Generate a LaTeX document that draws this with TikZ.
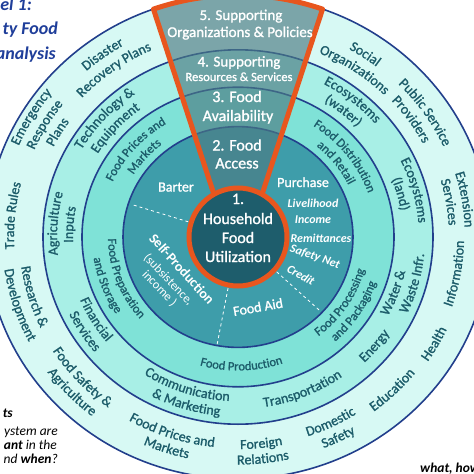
\documentclass[tikz,border=0pt]{standalone}
\usepackage{fontspec}
\setmainfont{Carlito}
\newfontfamily\semib{Carlito}[FakeBold=1.2]
\usetikzlibrary{decorations.text}
\definecolor{rfive}{HTML}{D7F9F4}
\definecolor{rfour}{HTML}{A8EFE6}
\definecolor{rthree}{HTML}{7FE2D7}
\definecolor{rtwo}{HTML}{3E9DAA}
\definecolor{rone}{HTML}{1E5D6C}
\definecolor{navy}{HTML}{223F8C}
\definecolor{orng}{HTML}{E8561E}
\definecolor{wedgec}{HTML}{4C7B83}
\definecolor{rtxt}{HTML}{1C5C6A}
\definecolor{ttl}{HTML}{1F3E9A}
\newcommand\fthree{\semib\color{rtxt}\fontsize{12.5}{14}\selectfont}
\newcommand\ffour{\semib\color{rtxt}\fontsize{14}{16}\selectfont}
\newcommand\UT[4]{%
  \pgfmathsetmacro\myA{#2+55}\pgfmathsetmacro\myB{#2-55}\pgfmathsetmacro\myR{0.96*#3}%
  \path[decorate,decoration={text along path,text align=center,text={|#1|#4}}]
    (\myA:#3pt and \myR pt) arc[start angle=\myA,end angle=\myB,x radius=#3pt,y radius=\myR pt];}
\newcommand\LT[4]{%
  \pgfmathsetmacro\myA{#2-55}\pgfmathsetmacro\myB{#2+55}\pgfmathsetmacro\myR{0.96*#3}%
  \path[decorate,decoration={text along path,text align=center,text={|#1|#4}}]
    (\myA:#3pt and \myR pt) arc[start angle=\myA,end angle=\myB,x radius=#3pt,y radius=\myR pt];}
\tikzset{
  ring/.style={draw=navy,line width=1.6pt},
  wlab/.style={text=white,inner sep=0pt,font=\semib\fontsize{14}{16}\selectfont},
  wbig/.style={text=white,inner sep=0pt,anchor=base,font=\semib\fontsize{16}{18}\selectfont},
  wmid/.style={text=white,inner sep=0pt,anchor=base,font=\semib\fontsize{15}{17}\selectfont},
  wbi/.style={text=white,inner sep=0pt,font=\bfseries\itshape\fontsize{12}{14}\selectfont},
  ttlab/.style={text=ttl,inner sep=0pt,anchor=base east,font=\bfseries\itshape\fontsize{18}{20}\selectfont},
  qlab/.style={text=black,inner sep=0pt,font=\itshape\fontsize{13.5}{15}\selectfont},
  dash line/.style={white,dashed,line width=0.8pt},
  wedgepath/.style={line join=round}
}
\begin{document}
\begin{tikzpicture}[x=1pt,y=-1pt]
\useasboundingbox (0,0) rectangle (474,474);
\clip (0,0) rectangle (474,474);
\fill[white] (0,0) rectangle (474,474);
\begin{scope}[shift={(238pt,-237pt)},x=1pt,y=1pt]
  \filldraw[ring,fill=rfive] (0,0) ellipse[x radius=252pt,y radius=241.9pt];
  \filldraw[ring,fill=rfour] (0,0) ellipse[x radius=195pt,y radius=187.2pt];
  \filldraw[ring,fill=rthree] (0,0) ellipse[x radius=156pt,y radius=149.8pt];
  \filldraw[ring,fill=rtwo] (0,0) ellipse[x radius=115pt,y radius=110.4pt];
  \coordinate (d1a) at (163:52pt); \coordinate (d1b) at (163:111pt);
  \coordinate (d2a) at (259:52pt); \coordinate (d2b) at (259:109pt);
  \coordinate (d3a) at (-42:52pt); \coordinate (d3b) at (-42:111pt);
  \draw[dash line] (d1a) -- (d1b);
  \draw[dash line] (d2a) -- (d2b);
  \draw[dash line] (d3a) -- (d3b);
  \coordinate (apex) at (0,-31);
  \fill[wedgec,fill opacity=0.66] (apex) -- (109.6:252pt and 241.9pt) arc[start angle=109.6,end angle=70.4,x radius=252pt,y radius=241.9pt] -- cycle;
  \draw[wedgepath,orng,line width=5pt] (apex) -- (109.6:252pt and 241.9pt) arc[start angle=109.6,end angle=70.4,x radius=252pt,y radius=241.9pt] -- cycle;
  \filldraw[fill=rone,draw=orng,line width=5pt] (0,0) circle[radius=49pt];
  % ring 3
  \UT{\fthree}{139}{138}{Food Prices and}
  \UT{\fthree}{139}{123}{Markets}
  \UT{\fthree}{37.5}{138}{Food Distribution}
  \UT{\fthree}{37.5}{123}{and Retail}
  \LT{\fthree}{-33}{131}{Food Processing}
  \LT{\fthree}{-33}{146}{and Packaging}
  \LT{\fthree}{200.5}{130}{Food Preparation}
  \LT{\fthree}{200.5}{146}{and Storage}
  \LT{\fthree}{-88.5}{139}{Food Production}
  % ring 4
  \UT{\ffour}{138}{181}{Technology {\&}}
  \UT{\ffour}{138}{165}{Equipment}
  \UT{\ffour}{50.5}{181}{Ecosystems}
  \UT{\ffour}{50.5}{165}{(water)}
  \UT{\ffour}{175.7}{181}{Agriculture}
  \UT{\ffour}{175.7}{165}{Inputs}
  \UT{\ffour}{15}{181}{Ecosystems}
  \UT{\ffour}{15}{165}{(land)}
  \LT{\ffour}{-20}{171}{Water {\&}}
  \LT{\ffour}{-15}{187}{Waste Infr.}
  \LT{\ffour}{210.5}{171}{Financial}
  \LT{\ffour}{212}{187}{Services}
  \LT{\ffour}{-108.5}{171}{Communication}
  \LT{\ffour}{-107}{187}{{\&} Marketing}
  \LT{\ffour}{-67.5}{179}{Transportation}
  \LT{\ffour}{-39}{182}{Energy}
  % ring 5
  \UT{\ffour}{126.2}{230}{Disaster}
  \UT{\ffour}{126.2}{213}{Recovery Plans}
  \UT{\ffour}{149.5}{239}{Emergency}
  \UT{\ffour}{149.5}{223}{Response}
  \UT{\ffour}{149.5}{207}{Plans}
  \UT{\ffour}{174.5}{224}{Trade Rules}
  \LT{\ffour}{196.5}{219}{Research {\&}}
  \LT{\ffour}{197.5}{236}{Development}
  \LT{\ffour}{-137.5}{220}{Food Safety {\&}}
  \LT{\ffour}{-136.5}{237}{Agriculture}
  \LT{\ffour}{-108.4}{220}{Food Prices and}
  \LT{\ffour}{-108.4}{236}{Markets}
  \LT{\ffour}{-83.7}{221}{Foreign}
  \LT{\ffour}{-83.7}{237}{Relations}
  \LT{\ffour}{-63.8}{219}{Domestic}
  \LT{\ffour}{-63.8}{236}{Safety}
  \LT{\ffour}{-45.2}{227}{Education}
  \LT{\ffour}{-28.9}{230}{Health}
  \LT{\ffour}{-9.7}{226}{Information}
  \UT{\ffour}{9.5}{227}{Extension}
  \UT{\ffour}{9.5}{211}{Services}
  \UT{\ffour}{34}{226}{Public Service}
  \UT{\ffour}{34.5}{209}{Providers}
  \UT{\ffour}{55.5}{225}{Social}
  \UT{\ffour}{55.5}{208}{Organizations}
\end{scope}
% wedge labels
\node[wmid] (w5a) at (241,20) {5. Supporting};
\node[wmid] (w5b) at (240,37) {Organizations \& Policies};
\node[wmid] (w4a) at (239,66.5) {4. Supporting};
\node[wbig,font=\semib\fontsize{12.5}{14}\selectfont] (w4b) at (239,81) {Resources \& Services};
\node[wbig] (w3a) at (237,102) {3. Food};
\node[wbig] (w3b) at (238,121) {Availability};
\node[wbig] (w2a) at (237,150.5) {2. Food};
\node[wbig] (w2b) at (237,168.5) {Access};
% inner
\node[wbig] (i1) at (238,204) {1.};
\node[wbig] (i2) at (238,224) {Household};
\node[wbig] (i3) at (238,243) {Food};
\node[wbig] (i4) at (238,262) {Utilization};
% ring 2
\node[wlab,anchor=base] (barter) at (176,191.5) {Barter};
\node[wlab,anchor=base] (purch) at (303,187) {Purchase};
\node[wbi,anchor=base] (liv) at (313,207.5) {Livelihood};
\node[wbi,anchor=base] (inc) at (313,223) {Income};
\node[wbi,anchor=base] (rem) at (321,242) {Remittances};
\node[wbi,rotate=-19] (snet) at (315,257) {Safety Net};
\node[wbi,rotate=-30] (cred) at (301,275) {Credit};
\node[wlab,rotate=10] (faid) at (258,307) {Food Aid};
\node[wlab,rotate=-48,font=\bfseries\fontsize{14}{16}\selectfont] (selfp) at (182,269) {Self-Production};
\node[wlab,rotate=-46,align=center,font=\fontsize{12.5}{12.5}\selectfont] (subs) at (164,284) {(subsistence,\\income )};
% title fragments
\node[ttlab] (t1) at (32,10) {el 1:};
\node[ttlab] (t2) at (58,34) {ty Food};
\node[ttlab] (t3) at (56,59) {analysis};
% question fragments
\node[qlab,anchor=base east] (q1) at (13,417) {\textbf{ts}};
\node[qlab,anchor=base east] (q2) at (58,435) {ystem are};
\node[qlab,anchor=base east] (q3) at (57,449) {\textbf{ant} in the};
\node[qlab,anchor=base east] (q4) at (58,463) {nd \textbf{when}?};
\node[qlab,anchor=base west,font=\bfseries\itshape\fontsize{13.5}{15}\selectfont] (q5) at (420,472) {what, how};
\end{tikzpicture}
\end{document}
